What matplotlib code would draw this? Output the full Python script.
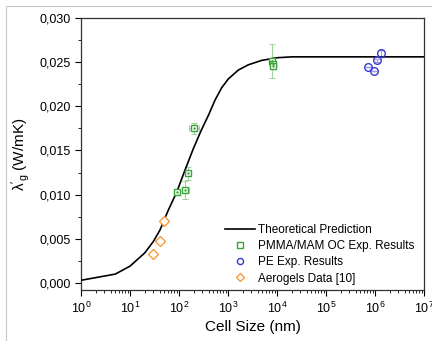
import numpy as np
import matplotlib.pyplot as plt
from matplotlib.ticker import FuncFormatter, MultipleLocator, LogLocator
from matplotlib.patches import Rectangle

plt.rcParams['font.family'] = ['Liberation Sans', 'DejaVu Sans']
plt.rcParams['mathtext.fontset'] = 'custom'
plt.rcParams['mathtext.rm'] = 'Liberation Sans'
plt.rcParams['mathtext.it'] = 'Liberation Sans:italic'

# theoretical curve
theo_x = [1, 5, 10, 20, 30, 41, 60, 90, 133, 196, 280, 400, 543, 743, 1015, 1620, 2600,
          4870, 10000, 20000, 1e7]
theo_y = [0.0003, 0.0010, 0.0019, 0.0034, 0.0047, 0.0060, 0.0082, 0.0103, 0.0128, 0.0152,
          0.0172, 0.0190, 0.0207, 0.0221, 0.0231, 0.0241, 0.0247, 0.0252, 0.0255, 0.0256, 0.0256]

# PMMA/MAM OC
pmma_x = [92, 133, 152, 202, 8000, 8200, 8400]
pmma_y = [0.0103, 0.0105, 0.0124, 0.0175, 0.0251, 0.0248, 0.0246]
pmma_yerr = [0.0003, 0.0010, 0.0007, 0.0006, 0.0019, 0.0002, 0.0002]
pmma_xerr_lo = [5, 10, 15, 45, 0, 0, 0]
pmma_xerr_hi = [5, 25, 15, 60, 0, 0, 0]

# PE
pe_x = [7.3e5, 9.5e5, 1.12e6, 1.3e6]
pe_y = [0.0244, 0.0240, 0.0252, 0.0260]
pe_yerr = [0.0, 0.0, 0.0002, 0.0004]

# Aerogels
aer_x = [30, 40, 50]
aer_y = [0.0033, 0.0047, 0.0070]

green = '#3aa43a'
blue = '#3a3ad0'
orange = '#f99b3c'

fig = plt.figure(figsize=(4.32, 3.41), dpi=100)
ax = fig.add_axes([81 / 432, 1 - 290 / 341, 343 / 432, 272 / 341])

ax.plot(theo_x, theo_y, color='black', lw=1.2, label='Theoretical Prediction', zorder=3)
ax.errorbar(pmma_x, pmma_y, yerr=pmma_yerr, xerr=[pmma_xerr_lo, pmma_xerr_hi], fmt='none',
            ecolor='#9fd49f', elinewidth=0.8, capsize=2, capthick=0.8, zorder=2)
ax.plot(pmma_x, pmma_y, 's', mfc='white', mec=green, mew=1.0, ms=5,
        label='PMMA/MAM OC Exp. Results', zorder=4)
ax.plot(pmma_x, pmma_y, '.', color=green, ms=1.5, zorder=5)
ax.errorbar(pe_x, pe_y, yerr=pe_yerr, fmt='none', ecolor='#a0a0e0', elinewidth=0.8,
            capsize=2, zorder=2)
ax.plot(pe_x, pe_y, 'o', mfc='none', mec=blue, mew=1.0, ms=5.5,
        label='PE Exp. Results', zorder=4)
ax.plot(aer_x, aer_y, 'D', mfc='white', mec=orange, mew=1.0, ms=5.5,
        label='Aerogels Data [10]', zorder=4)

ax.set_xscale('log')
ax.set_xlim(1, 1e7)
ax.set_ylim(-0.0008, 0.030)
ax.yaxis.set_major_locator(MultipleLocator(0.005))
ax.yaxis.set_minor_locator(MultipleLocator(0.0025))
ax.yaxis.set_major_formatter(FuncFormatter(lambda v, p: ('%.3f' % v).replace('.', ',')))
ax.xaxis.set_major_locator(LogLocator(base=10, numticks=10))
ax.xaxis.set_minor_locator(LogLocator(base=10, subs=np.arange(2, 10), numticks=20))
ax.tick_params(which='major', direction='out', length=4, width=0.8, labelsize=9)
ax.tick_params(which='minor', direction='out', length=2, width=0.6)
ax.tick_params(top=False, right=False, which='both')
for s in ax.spines.values():
    s.set_linewidth(0.9)
    s.set_color('#333333')

ax.set_xlabel('Cell Size (nm)', fontsize=11, labelpad=3)
ax.set_ylabel(r"$\mathregular{\lambda'_g}$ (W/mK)", fontsize=11, labelpad=5)

ax.legend(loc='upper left', frameon=False, fontsize=8.5, handlelength=2.5,
          labelspacing=0.35, handletextpad=0.3, markerscale=0.8, borderpad=0,
          borderaxespad=0, bbox_to_anchor=(0.42, 0.242))

fig.patches.append(Rectangle((6 / 432, -0.1), 1.2, 1 - 6 / 341 + 0.1, transform=fig.transFigure,
                             fill=False, edgecolor='#c8c8c8', lw=0.8))

plt.savefig('out.png', dpi=100)
